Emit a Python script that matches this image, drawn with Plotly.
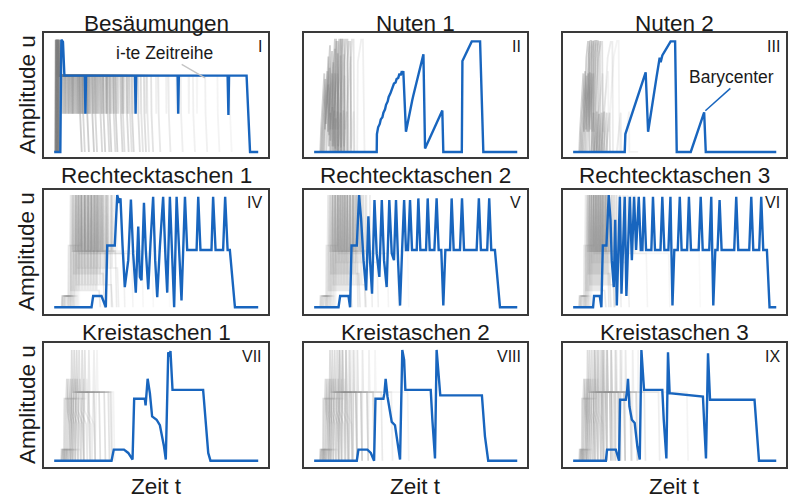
import plotly.graph_objects as go

# ---------------------------------------------------------------------------
# Labels
# ---------------------------------------------------------------------------
TITLES = ["Besäumungen", "Nuten 1", "Nuten 2",
          "Rechtecktaschen 1", "Rechtecktaschen 2", "Rechtecktaschen 3",
          "Kreistaschen 1", "Kreistaschen 2", "Kreistaschen 3"]
NUMERALS = ["I", "II", "III", "IV", "V", "VI", "VII", "VIII", "IX"]
Y_LABEL = "Amplitude u"
X_LABEL = "Zeit t"

# ---------------------------------------------------------------------------
# Barycenter curves: (t [% of run], u [normalised amplitude])
# ---------------------------------------------------------------------------
BARY_I = [(0, 0), (3.0, 0), (3.5, 1.0), (4.3, 0.98), (5.0, 0.68), (15.0, 0.68),
          (15.3, 0.34), (15.6, 0.68), (39.6, 0.68), (39.9, 0.34), (40.2, 0.68),
          (60.5, 0.68), (60.8, 0.34), (61.1, 0.68), (85.0, 0.68), (85.4, 0.33),
          (85.7, 0.68), (94.3, 0.68), (96.0, 0), (100, 0)]

BARY_II = [(0, 0), (30.8, 0), (30.9, 0.16), (31.5, 0.22), (32.3, 0.25), (32.8, 0.29),
           (33.6, 0.31), (34.1, 0.35), (34.9, 0.38), (35.4, 0.42), (36.2, 0.45),
           (36.7, 0.49), (37.5, 0.52), (38.0, 0.55), (38.8, 0.58), (39.3, 0.61),
           (40.1, 0.62), (40.6, 0.65), (41.4, 0.66), (41.9, 0.69), (42.7, 0.69),
           (43.2, 0.72), (43.5, 0.69), (43.9, 0.72), (45.2, 0.18), (45.8, 0.24),
           (46.8, 0.33), (47.3, 0.38), (48.3, 0.46), (48.8, 0.50), (49.8, 0.58),
           (50.3, 0.62), (51.3, 0.70), (51.8, 0.73), (52.8, 0.80), (53.8, 0.87),
           (54.6, 0.03), (63.1, 0.37), (63.6, 0), (72.7, 0), (73.0, 0.81),
           (77.6, 0.985), (81.7, 0.985), (83.3, 0), (100, 0)]

BARY_III = [(0, 0), (25.4, 0), (25.7, 0.16), (28.2, 0.30), (30.5, 0.42), (33.0, 0.56),
            (35.7, 0.71), (36.9, 0.18), (39.0, 0.45), (41.0, 0.66), (42.6, 0.84),
            (43.1, 0.80), (43.9, 0.86), (46.0, 0.93), (48.0, 0.985), (50.2, 0.985),
            (51.0, 0), (57.9, 0), (64.5, 0.353), (65.3, 0), (100, 0)]

BARY_IV = [(0, 0), (18.3, 0), (19.1, 0.10), (23.2, 0.10), (25.3, 0), (26.0, 0.55),
           (29.7, 0.55), (30.9, 1.0), (31.9, 0.93), (32.5, 0.97), (33.5, 0.55),
           (34.6, 0.18), (36.3, 0.42), (37.6, 0.96), (38.7, 0.48), (40.0, 0.13),
           (41.2, 0.72), (42.0, 0.27), (42.8, 0.24), (44.0, 0.93), (44.9, 0.51),
           (46.1, 0.16), (47.2, 0.57), (48.5, 0.985), (49.5, 0.42), (50.5, 0.09),
           (51.8, 0.54), (53.4, 0.985), (54.6, 0.42), (55.4, 0.13), (56.7, 0.985),
           (57.8, 0.48), (58.8, 0.0), (60.0, 0.985), (61.1, 0.51), (62.4, 0.06),
           (64.1, 0.985), (65.2, 0.51), (69.8, 0.51), (70.6, 0.985), (71.7, 0.51),
           (77.1, 0.51), (77.9, 0.985), (79.1, 0.51), (82.8, 0.51), (83.8, 0.985),
           (85.0, 0.51), (86.1, 0.51), (88.6, 0), (100, 0)]

BARY_V = [(0, 0), (12.0, 0), (12.8, 0.10), (16.9, 0.10), (17.7, 0), (18.4, 0.55),
          (21.0, 0.55), (22.1, 1.0), (23.1, 0.79), (24.3, 0.42), (25.6, 0.15),
          (26.7, 0.81), (27.5, 0.42), (28.5, 0.12), (29.7, 0.955), (30.8, 0.48),
          (32.1, 0.27), (33.3, 0.955), (34.4, 0.42), (35.7, 0.18), (37.0, 0.955),
          (38.2, 0.48), (39.3, 0.42), (40.3, 0.955), (41.3, 0.42), (42.3, 0.015),
          (43.3, 0.51), (44.3, 0.955), (45.2, 0.51), (46.2, 0.51), (47.2, 0.955),
          (48.2, 0.51), (50.5, 0.51), (51.3, 0.97), (52.3, 0.51), (55.1, 0.51),
          (55.9, 0.97), (56.9, 0.51), (59.2, 0.51), (60.3, 0.97), (61.3, 0.51),
          (62.6, 0.51), (63.6, 0.015), (64.6, 0.51), (66.9, 0.51), (67.7, 0.97),
          (68.7, 0.51), (71.8, 0.51), (72.8, 0.97), (73.8, 0.51), (80.0, 0.51),
          (81.1, 0.97), (82.1, 0.51), (85.2, 0.51), (86.2, 0.97), (87.2, 0.51),
          (89.0, 0.51), (91.5, 0), (100, 0)]

BARY_VI = [(0, 0), (9.8, 0), (10.3, 0.10), (13.1, 0.10), (13.9, 0), (14.6, 0.55),
           (16.4, 0.55), (17.5, 1.0), (18.4, 0.78), (19.0, 0.42), (20.0, 0.18),
           (20.7, 0.78), (21.5, 0.015), (22.3, 0.66), (23.0, 0.985), (23.8, 0.12),
           (24.6, 0.57), (25.4, 0.985), (26.2, 0.10), (27.0, 0.57), (27.9, 0.985),
           (28.9, 0.42), (30.0, 0.985), (31.0, 0.51), (32.3, 0.985), (33.3, 0.51),
           (34.1, 0.51), (34.9, 0.985), (35.9, 0.51), (38.5, 0.51), (39.3, 0.985),
           (40.3, 0.51), (43.0, 0.51), (43.9, 0.985), (44.9, 0.51), (46.9, 0.51),
           (47.9, 0.985), (48.9, 0.015), (49.8, 0.51), (51.5, 0.51), (52.5, 0.985),
           (53.4, 0.51), (56.1, 0.51), (57.0, 0.985), (58.0, 0.51), (61.8, 0.51),
           (62.8, 0.985), (63.8, 0.51), (67.0, 0.51), (68.0, 0.985), (69.0, 0.015),
           (70.0, 0.51), (71.1, 0.51), (72.1, 0.955), (73.1, 0.51), (79.3, 0.51),
           (80.3, 0.985), (81.3, 0.51), (86.7, 0.51), (87.7, 0.985), (88.7, 0.51),
           (91.6, 0.51), (92.6, 0.985), (93.6, 0.51), (95.4, 0.51), (96.7, 0),
           (100, 0)]

BARY_VII = [(0, 0), (28.1, 0), (29.2, 0.10), (34.2, 0.10), (36.3, 0.07), (38.4, 0.01),
            (39.2, 0.56), (44.4, 0.56), (44.8, 0.50), (45.1, 0.56), (45.8, 0.74),
            (46.9, 0.61), (48.0, 0.40), (50.2, 0.37), (51.8, 0.32), (53.8, 0.13),
            (54.7, 0.01), (55.9, 0.98), (56.5, 0.94), (57.0, 0.99), (58.0, 0.64),
            (73.0, 0.64), (75.5, 0.07), (76.6, 0), (100, 0)]

BARY_VIII = [(0, 0), (21.0, 0), (21.8, 0.10), (26.2, 0.10), (27.9, 0.07), (29.5, 0),
             (30.2, 0.56), (34.1, 0.56), (34.6, 0.61), (35.2, 0.74), (36.1, 0.58),
             (36.9, 0.49), (38.2, 0.35), (39.8, 0.32), (41.0, 0.16), (42.3, 0.01),
             (43.4, 1.0), (44.3, 0.91), (44.9, 0.64), (57.4, 0.64), (58.2, 0.37),
             (59.5, 0.02), (60.3, 1.0), (61.3, 0.76), (62.1, 0.59), (82.6, 0.59),
             (84.1, 0.22), (85.7, 0), (100, 0)]

BARY_IX = [(0, 0), (16.1, 0), (16.7, 0.10), (21.0, 0.10), (22.6, 0), (23.1, 0.55),
           (25.9, 0.55), (26.6, 0.64), (27.0, 0.74), (27.7, 0.49), (28.9, 0.37),
           (30.3, 0.34), (31.6, 0.13), (32.8, 0.01), (33.6, 1.0), (34.3, 0.76),
           (34.9, 0.64), (43.9, 0.64), (44.6, 0.37), (45.9, 0.02), (46.7, 0.98),
           (47.5, 0.61), (63.9, 0.58), (64.6, 0.31), (65.4, 0.02), (66.4, 0.97),
           (67.4, 0.55), (89.3, 0.55), (90.5, 0.22), (91.5, 0), (100, 0)]

# ---------------------------------------------------------------------------
# Individual runs (grey). Edge runs: (start spike, dip times, end, opacity)
# ---------------------------------------------------------------------------
EDGE_PEAK, EDGE_LEVEL, EDGE_DIP = 1.0, 0.68, 0.34
RUNS_I = [
    (0.7, [4.5, 9.0], 12.5, 0.5), (0.9, [5.5, 11.0], 16.0, 0.5),
    (1.1, [6.0, 13.5], 18.5, 0.5), (1.3, [7.5, 15.0, 21.0], 24.0, 0.45),
    (1.5, [8.0, 17.5], 27.0, 0.45), (1.7, [9.5, 19.0, 25.5], 30.0, 0.45),
    (1.9, [10.5, 22.0], 32.5, 0.4), (2.1, [12.0, 23.5, 29.0], 35.5, 0.4),
    (2.3, [13.0, 26.0], 38.0, 0.4), (2.5, [14.5, 28.0, 34.0], 41.0, 0.35),
    (2.7, [16.0, 30.5], 44.0, 0.35), (1.2, [18.0, 33.0], 47.5, 0.3),
    (1.6, [20.0, 36.0], 51.0, 0.25), (2.0, [24.0, 40.0], 56.0, 0.22),
    (2.4, [27.0, 45.0], 62.0, 0.18), (1.8, [31.0, 50.0], 68.0, 0.15),
    (2.2, [35.0, 55.0, 66.0], 74.0, 0.15), (1.4, [38.0, 60.0], 80.0, 0.12),
    (2.6, [42.0, 70.0], 86.0, 0.1),
    (0.8, [3.8, 7.0, 10.0], 14.0, 0.4), (1.0, [5.0, 8.5, 12.5], 20.0, 0.4),
    (1.2, [6.8, 11.8, 16.8], 22.5, 0.4), (1.4, [9.0, 14.0, 19.5], 26.0, 0.38),
    (1.6, [11.5, 16.5, 23.0], 29.0, 0.35), (1.8, [13.8, 20.5, 27.5], 33.5, 0.33),
    (2.0, [17.0, 24.5, 31.5], 37.0, 0.3), (2.2, [21.5, 29.5, 36.5], 42.5, 0.28),
    (2.4, [25.5, 33.5, 39.0], 45.5, 0.25),
]

# Groove runs: explicit polylines with opacity
RUNS_II = [
    ([(3.0, 0), (3.4, 0.2), (5.0, 0.70), (5.3, 0.2), (7.0, 0.85), (7.2, 0.05), (8.0, 0.35), (8.2, 0),
      (9.5, 0), (9.7, 0.8), (10.2, 1.0), (10.8, 1.0), (11.2, 0)], 0.45),
    ([(4.0, 0), (4.4, 0.2), (6.5, 0.72), (6.8, 0.18), (8.8, 0.9), (9.0, 0.05), (10.0, 0.37), (10.2, 0),
      (11.6, 0), (11.8, 0.8), (12.3, 1.0), (13.0, 1.0), (13.4, 0)], 0.45),
    ([(3.5, 0), (3.8, 0.15), (5.5, 0.65), (5.8, 0.25), (7.8, 0.95), (8.0, 0.1), (9.0, 0.4), (9.2, 0),
      (10.3, 0), (10.5, 0.75), (11.0, 0.98), (11.6, 0.98), (12.0, 0)], 0.45),
    ([(5.0, 0), (5.4, 0.2), (7.6, 0.75), (7.9, 0.2), (10.2, 0.92), (10.4, 0.03), (11.5, 0.36), (11.7, 0),
      (13.2, 0), (13.4, 0.82), (14.0, 1.0), (14.7, 1.0), (15.1, 0)], 0.4),
    ([(6.0, 0), (6.4, 0.2), (8.8, 0.7), (9.1, 0.2), (11.6, 0.88), (11.8, 0.05), (13.0, 0.35), (13.2, 0),
      (14.8, 0), (15.0, 0.8), (15.6, 1.0), (16.4, 1.0), (16.8, 0)], 0.4),
    ([(4.5, 0), (4.9, 0.18), (7.0, 0.6), (7.3, 0.15), (9.4, 0.8), (9.6, 0.05), (10.6, 0.3), (10.8, 0),
      (12.4, 0), (12.6, 0.85), (13.1, 1.0), (13.7, 1.0), (14.1, 0)], 0.4),
    ([(7.5, 0), (7.9, 0.2), (10.2, 0.7), (10.5, 0.2), (13.0, 0.86), (13.2, 0.04), (14.4, 0.37), (14.6, 0),
      (16.2, 0), (16.4, 0.8), (17.0, 0.98), (17.8, 0.98), (18.3, 0)], 0.35),
    ([(8.5, 0), (9.0, 0.2), (11.5, 0.7), (11.8, 0.2), (14.5, 0.87), (14.7, 0.05), (16.0, 0.36), (16.2, 0),
      (17.8, 0), (18.0, 0.8), (18.6, 1.0), (19.4, 1.0), (19.8, 0)], 0.25),
    ([(12.0, 0), (12.5, 0.2), (15.0, 0.68), (15.3, 0.2), (18.0, 0.85), (18.2, 0.03), (19.4, 0.36), (19.6, 0),
      (21.2, 0), (21.5, 0.8), (23.2, 1.0), (24.0, 1.0), (24.8, 0)], 0.15),
]

RUNS_III = [
    ([(3.0, 0), (3.3, 0.16), (5.0, 0.7), (5.3, 0.18), (6.5, 0.84), (7.3, 0.98), (7.8, 0.98), (8.1, 0),
      (9.0, 0), (10.0, 0.35), (10.2, 0)], 0.45),
    ([(3.6, 0), (3.9, 0.16), (5.9, 0.72), (6.2, 0.2), (7.6, 0.85), (8.5, 0.99), (9.0, 0.99), (9.3, 0),
      (10.4, 0), (11.6, 0.36), (11.8, 0)], 0.45),
    ([(4.2, 0), (4.5, 0.15), (6.6, 0.68), (6.9, 0.18), (8.4, 0.82), (9.4, 0.98), (10.0, 0.98), (10.3, 0),
      (11.5, 0), (12.8, 0.34), (13.0, 0)], 0.45),
    ([(4.8, 0), (5.1, 0.16), (7.4, 0.7), (7.7, 0.18), (9.3, 0.84), (10.4, 0.99), (11.0, 0.99), (11.3, 0),
      (12.6, 0), (14.0, 0.35), (14.2, 0)], 0.4),
    ([(5.5, 0), (5.8, 0.16), (8.2, 0.71), (8.5, 0.2), (10.3, 0.85), (11.5, 0.99), (12.1, 0.99), (12.4, 0),
      (13.8, 0), (15.3, 0.36), (15.5, 0)], 0.4),
    ([(6.2, 0), (6.5, 0.16), (9.0, 0.7), (9.3, 0.18), (11.2, 0.84), (12.4, 0.98), (13.1, 0.98), (13.4, 0),
      (14.9, 0), (16.5, 0.35), (16.7, 0)], 0.35),
    ([(7.0, 0), (7.3, 0.16), (10.0, 0.7), (10.3, 0.18), (12.3, 0.84), (13.6, 0.98), (14.3, 0.98), (14.6, 0),
      (16.2, 0), (17.9, 0.35), (18.1, 0)], 0.3),
    ([(11.0, 0), (11.4, 0.16), (14.5, 0.7), (14.8, 0.18), (17.0, 0.84), (18.5, 0.98), (19.3, 0.98), (19.6, 0),
      (21.5, 0), (23.4, 0.35), (23.6, 0)], 0.18),
    ([(13.5, 0), (13.9, 0.16), (17.2, 0.72), (17.5, 0.18), (20.0, 0.85), (21.6, 0.99), (22.4, 0.99), (22.8, 0),
      (25.0, 0), (27.5, 0.36), (27.7, 0), (32.0, 0)], 0.12),
]

# Pocket runs: (step on, step off, rise, spike times, floor between spikes, end, opacity)
POCKET_STEP, POCKET_LEVEL, POCKET_PEAK = 0.10, 0.55, 1.0
RUNS_IV = [
    (3.8, 6.5, 7.0, [8.0, 9.4, 10.8, 12.2, 13.6, 15.0, 16.4, 17.8, 19.2, 20.6], 0.15, 22.0, 0.45),
    (4.2, 7.2, 7.6, [8.6, 10.2, 11.8, 13.4, 15.0, 16.6, 18.2, 19.8, 21.4, 23.0], 0.5, 25.0, 0.45),
    (4.6, 8.0, 8.4, [9.3, 10.6, 11.9, 13.2, 14.5, 15.8, 17.1, 18.4, 19.7, 21.0, 22.3], 0.3, 24.0, 0.45),
    (5.0, 8.6, 9.0, [10.0, 11.7, 13.4, 15.1, 16.8, 18.5, 20.2, 21.9, 23.6, 25.3], 0.5, 27.5, 0.4),
    (5.5, 9.0, 9.5, [10.6, 12.1, 13.6, 15.1, 16.6, 18.1, 19.6, 21.1, 22.6, 24.1, 25.6], 0.2, 28.0, 0.4),
    (4.0, 7.8, 8.2, [9.0, 10.9, 12.8, 14.7, 16.6, 18.5, 20.4, 22.3, 24.2, 26.1, 28.0], 0.5, 30.0, 0.4),
    (6.0, 9.8, 10.3, [11.2, 12.9, 14.6, 16.3, 18.0, 19.7, 21.4, 23.1, 24.8, 26.5, 28.2], 0.35, 31.0, 0.35),
    (5.2, 9.4, 10.0, [11.5, 13.5, 15.5, 17.5, 19.5, 21.5, 23.5, 25.5, 27.5, 29.5], 0.48, 34.0, 0.3),
    (6.5, 10.5, 11.0, [12.5, 14.8, 17.1, 19.4, 21.7, 24.0, 26.3, 28.6], 0.48, 38.0, 0.22),
    (7.0, 11.0, 11.5, [13.0, 15.5, 18.0, 20.5, 23.0, 25.5, 28.0, 30.5], 0.5, 43.0, 0.18),
    (7.5, 11.5, 12.0, [13.5, 16.0, 18.5, 21.0, 23.5, 26.0, 28.5], 0.48, 48.0, 0.15),
    (8.0, 12.0, 12.5, [14.5, 17.5, 20.5, 23.5, 26.5], 0.5, 56.0, 0.1),
]
RUNS_V = [
    (3.0, 5.5, 6.0, [6.8, 8.0, 9.2, 10.4, 11.6, 12.8, 14.0, 15.2, 16.4], 0.15, 18.0, 0.45),
    (3.4, 6.2, 6.6, [7.5, 8.8, 10.1, 11.4, 12.7, 14.0, 15.3, 16.6, 17.9, 19.2], 0.5, 21.0, 0.45),
    (3.8, 6.8, 7.2, [8.0, 9.2, 10.4, 11.6, 12.8, 14.0, 15.2, 16.4, 17.6, 18.8, 20.0], 0.3, 22.0, 0.45),
    (4.2, 7.4, 7.8, [8.8, 10.3, 11.8, 13.3, 14.8, 16.3, 17.8, 19.3, 20.8, 22.3], 0.5, 24.5, 0.4),
    (4.6, 7.8, 8.3, [9.2, 10.6, 12.0, 13.4, 14.8, 16.2, 17.6, 19.0, 20.4, 21.8, 23.2], 0.2, 25.0, 0.4),
    (5.0, 8.4, 8.8, [9.8, 11.4, 13.0, 14.6, 16.2, 17.8, 19.4, 21.0, 22.6, 24.2], 0.5, 28.0, 0.35),
    (5.5, 9.0, 9.5, [10.5, 12.2, 13.9, 15.6, 17.3, 19.0, 20.7, 22.4, 24.1, 25.8], 0.4, 31.0, 0.3),
    (6.0, 9.6, 10.0, [11.5, 13.5, 15.5, 17.5, 19.5, 21.5, 23.5, 25.5, 27.5], 0.48, 36.0, 0.22),
    (6.5, 10.0, 10.5, [12.0, 14.2, 16.4, 18.6, 20.8, 23.0, 25.2, 27.4], 0.48, 41.0, 0.18),
    (7.0, 10.5, 11.0, [12.5, 15.0, 17.5, 20.0, 22.5, 25.0], 0.5, 46.0, 0.12),
]
RUNS_VI = [
    (3.0, 5.0, 5.4, [6.1, 7.1, 8.1, 9.1, 10.1, 11.1, 12.1, 13.1, 14.1], 0.15, 15.5, 0.45),
    (3.3, 5.6, 6.0, [6.8, 7.9, 9.0, 10.1, 11.2, 12.3, 13.4, 14.5, 15.6], 0.5, 17.0, 0.45),
    (3.6, 6.0, 6.4, [7.2, 8.2, 9.2, 10.2, 11.2, 12.2, 13.2, 14.2, 15.2, 16.2], 0.3, 18.0, 0.45),
    (3.9, 6.4, 6.8, [7.7, 8.9, 10.1, 11.3, 12.5, 13.7, 14.9, 16.1, 17.3], 0.5, 19.5, 0.4),
    (4.2, 6.8, 7.2, [8.0, 9.1, 10.2, 11.3, 12.4, 13.5, 14.6, 15.7, 16.8, 17.9], 0.2, 20.0, 0.4),
    (4.5, 7.2, 7.6, [8.5, 9.8, 11.1, 12.4, 13.7, 15.0, 16.3, 17.6, 18.9, 20.2], 0.5, 23.0, 0.35),
    (5.0, 7.6, 8.0, [9.0, 10.4, 11.8, 13.2, 14.6, 16.0, 17.4, 18.8, 20.2, 21.6, 23.0], 0.4, 27.0, 0.3),
    (5.5, 8.0, 8.5, [9.8, 11.4, 13.0, 14.6, 16.2, 17.8, 19.4, 21.0, 22.6, 24.2, 25.8], 0.48, 36.0, 0.22),
    (6.0, 8.5, 9.0, [10.5, 12.3, 14.1, 15.9, 17.7, 19.5, 21.3, 23.1, 24.9, 26.7, 28.5, 30.3], 0.48, 47.0, 0.18),
    (6.5, 9.0, 9.5, [11.0, 13.0, 15.0, 17.0, 19.0, 21.0, 23.0, 25.0, 27.0, 29.0, 31.0], 0.5, 62.0, 0.12),
]

# Circular pocket runs: (step on, rise, bump, drop, [(peak, plateau end), ...], opacity)
CIRCLE_STEP, CIRCLE_LEVEL, CIRCLE_BUMP, CIRCLE_TAIL, CIRCLE_PLATEAU = 0.10, 0.56, 0.74, 0.33, 0.62
RUNS_VII = [
    (3.6, 5.0, 6.2, 8.0, [(8.6, 14.0)], 0.45),
    (4.0, 5.8, 7.0, 9.2, [(9.8, 17.0)], 0.45),
    (4.4, 6.6, 8.0, 10.4, [(11.0, 19.5)], 0.45),
    (5.0, 7.4, 9.0, 11.6, [(12.2, 22.0)], 0.4),
    (5.6, 8.4, 10.2, 13.0, [(13.7, 24.5)], 0.4),
    (6.2, 9.2, 11.2, 14.4, [(15.0, 26.5)], 0.35),
    (7.0, 10.4, 12.6, 16.2, [(17.0, 27.5)], 0.3),
    (8.0, 12.0, 14.5, 18.5, [(19.5, 28.0)], 0.22),
    (9.0, 13.5, 16.0, 20.0, [(21.0, 29.0)], 0.16),
]
RUNS_VIII = [
    (3.0, 4.5, 5.6, 7.2, [(7.8, 11.5), (12.3, 16.0)], 0.45),
    (3.4, 5.2, 6.4, 8.3, [(8.9, 13.0), (13.8, 18.0)], 0.45),
    (3.8, 5.9, 7.3, 9.5, [(10.1, 14.8), (15.6, 20.5)], 0.45),
    (4.3, 6.6, 8.2, 10.7, [(11.3, 16.5), (17.3, 23.0)], 0.4),
    (4.8, 7.5, 9.3, 12.0, [(12.7, 18.5), (19.3, 26.0)], 0.4),
    (5.4, 8.4, 10.4, 13.4, [(14.1, 20.5), (21.3, 29.0)], 0.35),
    (6.0, 9.5, 11.8, 15.0, [(15.8, 23.0), (23.8, 33.0)], 0.28),
    (7.0, 11.0, 13.5, 17.0, [(18.0, 26.0), (27.0, 38.0)], 0.2),
    (8.0, 12.5, 15.0, 19.0, [(20.0, 29.0), (30.0, 46.0)], 0.14),
]
RUNS_IX = [
    (3.2, 4.4, 5.3, 6.6, [(7.1, 10.0), (10.7, 14.0), (14.6, 19.0)], 0.45),
    (3.6, 5.0, 6.0, 7.6, [(8.1, 11.5), (12.2, 16.0), (16.7, 22.0)], 0.45),
    (4.0, 5.6, 6.8, 8.6, [(9.2, 13.0), (13.8, 18.0), (18.7, 25.0)], 0.42),
    (4.5, 6.3, 7.6, 9.7, [(10.3, 14.5), (15.2, 20.0), (20.8, 28.0)], 0.4),
    (5.0, 7.0, 8.5, 10.9, [(11.5, 16.0), (16.8, 22.5), (23.3, 31.0)], 0.35),
    (5.6, 7.9, 9.6, 12.2, [(12.9, 18.0), (18.8, 25.0), (25.8, 35.0)], 0.3),
    (6.3, 8.9, 10.8, 13.7, [(14.5, 20.5), (21.3, 28.5), (29.3, 42.0)], 0.22),
    (7.0, 10.0, 12.0, 15.2, [(16.0, 23.0), (24.0, 31.0), (32.0, 56.0)], 0.14),
]


# ---------------------------------------------------------------------------
# Polyline helpers for the individual runs
# ---------------------------------------------------------------------------
def edge_run(start, dips, end):
    t = [start - 0.2, start, start + 0.5]
    u = [0.0, EDGE_PEAK, EDGE_LEVEL]
    for d in dips:
        t += [d - 0.15, d, d + 0.15]
        u += [EDGE_LEVEL, EDGE_DIP, EDGE_LEVEL]
    t += [end, end + 0.2, end + 1.0]
    u += [EDGE_LEVEL, EDGE_DIP, 0.0]
    return t, u


def pocket_run(step_on, step_off, rise, spikes, floor, end):
    t = [step_on - 0.2, step_on, step_off, step_off + 0.3, rise - 0.2, rise]
    u = [0.0, POCKET_STEP, POCKET_STEP, 0.0, 0.0, POCKET_LEVEL]
    level = POCKET_LEVEL
    for s in spikes:
        t += [s - 0.25, s, s + 0.25]
        u += [level, POCKET_PEAK, floor]
        level = floor
    t += [end, end + 0.6]
    u += [floor, 0.0]
    return t, u


def circle_run(step_on, rise, bump, drop, peaks):
    t = [step_on - 0.2, step_on, rise - 0.5, rise - 0.2, rise, bump - 0.3, bump,
         bump + 0.4, drop - 0.5, drop]
    u = [0.0, CIRCLE_STEP, CIRCLE_STEP, 0.0, CIRCLE_LEVEL, CIRCLE_LEVEL, CIRCLE_BUMP,
         0.45, CIRCLE_TAIL, 0.0]
    for g, h in peaks:
        t += [g, g + 0.4, h, h + 0.6]
        u += [1.0, CIRCLE_PLATEAU, CIRCLE_PLATEAU, 0.0]
    return t, u


# ---------------------------------------------------------------------------
# Layout geometry (pixels of the 790 x 498 canvas)
# ---------------------------------------------------------------------------
W, H = 790, 498
COL_PX = [(44, 268), (304, 527), (563, 786)]
ROW_PX = [(33, 157), (190, 314), (343, 467)]
ROW_YRANGE = [(-0.045, 1.06), (-0.06, 1.045), (-0.057, 1.063)]
X_RANGE = (-5, 104.8)
TITLE_Y = [23.5, 176, 332]
XLABEL_Y = 486
YLABEL_X = 27
LABEL_SIZE = 22.5

BLUE = "#1865be"
FRAME = "#3a3a3a"
TEXT = "#1a1a1a"
FONT = "Liberation Sans, Arial, Helvetica, sans-serif"
# opacity scale of the individual runs per family (edges, grooves, pockets, circles)
GREY_SCALE = [0.75, 0.8, 0.38, 0.6]


def grey(a, k):
    return f"rgba(125,125,125,{a * GREY_SCALE[k]:.3f})"


fig = go.Figure()


def axis_ids(i):
    s = "" if i == 0 else str(i + 1)
    return "x" + s, "y" + s


def add_line(i, t, u, color, width):
    xa, ya = axis_ids(i)
    fig.add_trace(go.Scatter(x=t, y=u, mode="lines", xaxis=xa, yaxis=ya,
                             line=dict(color=color, width=width),
                             hoverinfo="skip", showlegend=False))


# grey runs
for s, dips, e, a in RUNS_I:
    t, u = edge_run(s, dips, e)
    add_line(0, t, u, grey(a, 0), 1.8)
for idx, runs in ((1, RUNS_II), (2, RUNS_III)):
    for pts, a in runs:
        add_line(idx, [p[0] for p in pts], [p[1] for p in pts], grey(a, 1), 1.8)
for idx, runs in ((3, RUNS_IV), (4, RUNS_V), (5, RUNS_VI)):
    for so, sf, r, spikes, fl, e, a in runs:
        t, u = pocket_run(so, sf, r, spikes, fl, e)
        add_line(idx, t, u, grey(a, 2), 1.6)
for idx, runs in ((6, RUNS_VII), (7, RUNS_VIII), (8, RUNS_IX)):
    for so, r, b, d, peaks, a in runs:
        t, u = circle_run(so, r, b, d, peaks)
        add_line(idx, t, u, grey(a, 3), 1.7)

# barycenters
for idx, bary in enumerate([BARY_I, BARY_II, BARY_III, BARY_IV, BARY_V, BARY_VI,
                            BARY_VII, BARY_VIII, BARY_IX]):
    add_line(idx, [p[0] for p in bary], [p[1] for p in bary], BLUE, 2.4)

layout = dict(width=W, height=H, margin=dict(l=0, r=0, t=0, b=0),
              paper_bgcolor="white", plot_bgcolor="white", showlegend=False,
              font=dict(family=FONT, color=TEXT))
annotations = []
shapes = []
for i in range(9):
    r, c = divmod(i, 3)
    x0, x1 = COL_PX[c]
    y0, y1 = ROW_PX[r]
    s = "" if i == 0 else str(i + 1)
    layout["xaxis" + s] = dict(domain=[x0 / W, x1 / W], range=list(X_RANGE),
                               showgrid=False, zeroline=False, showticklabels=False,
                               ticks="", showline=True, mirror=True, linecolor=FRAME,
                               linewidth=1.6, anchor="y" + s, fixedrange=True)
    layout["yaxis" + s] = dict(domain=[1 - y1 / H, 1 - y0 / H], range=list(ROW_YRANGE[r]),
                               showgrid=False, zeroline=False, showticklabels=False,
                               ticks="", showline=True, mirror=True, linecolor=FRAME,
                               linewidth=1.6, anchor="x" + s, fixedrange=True)
    annotations.append(dict(text=TITLES[i], xref="paper", yref="paper",
                            x=(x0 + x1) / 2 / W, y=1 - TITLE_Y[r] / H,
                            xanchor="center", yanchor="middle", showarrow=False,
                            font=dict(size=LABEL_SIZE, family=FONT, color=TEXT)))
    annotations.append(dict(text=NUMERALS[i], xref="paper", yref="paper",
                            x=(x1 - 4) / W, y=1 - (y0 + 13) / H,
                            xanchor="right", yanchor="middle", showarrow=False,
                            font=dict(size=16, family=FONT, color=TEXT)))

for r in range(3):
    y0, y1 = ROW_PX[r]
    annotations.append(dict(text=Y_LABEL, xref="paper", yref="paper",
                            x=YLABEL_X / W, y=1 - (y0 + y1) / 2 / H, textangle=-90,
                            xanchor="center", yanchor="middle", showarrow=False,
                            font=dict(size=LABEL_SIZE, family=FONT, color=TEXT)))
for c in range(3):
    x0, x1 = COL_PX[c]
    annotations.append(dict(text=X_LABEL, xref="paper", yref="paper",
                            x=(x0 + x1) / 2 / W, y=1 - XLABEL_Y / H,
                            xanchor="center", yanchor="middle", showarrow=False,
                            font=dict(size=LABEL_SIZE, family=FONT, color=TEXT)))

# callouts
annotations.append(dict(text="i-te Zeitreihe", xref="x", yref="y", x=54.3, y=0.88,
                        xanchor="center", yanchor="middle", showarrow=False,
                        font=dict(size=17.5, family=FONT, color=TEXT)))
shapes.append(dict(type="line", xref="x", yref="y", x0=62.5, y0=0.78, x1=73.9, y1=0.66,
                   line=dict(color="#c4c4c4", width=1.3)))
annotations.append(dict(text="Barycenter", xref="x3", yref="y3", x=77.9, y=0.666,
                        xanchor="center", yanchor="middle", showarrow=False,
                        font=dict(size=17.5, family=FONT, color=TEXT)))
shapes.append(dict(type="line", xref="x3", yref="y3", x0=77.4, y0=0.567, x1=65.1, y1=0.367,
                   line=dict(color=BLUE, width=1.5)))

layout["annotations"] = annotations
layout["shapes"] = shapes
fig.update_layout(**layout)
fig.write_html("out.html")
